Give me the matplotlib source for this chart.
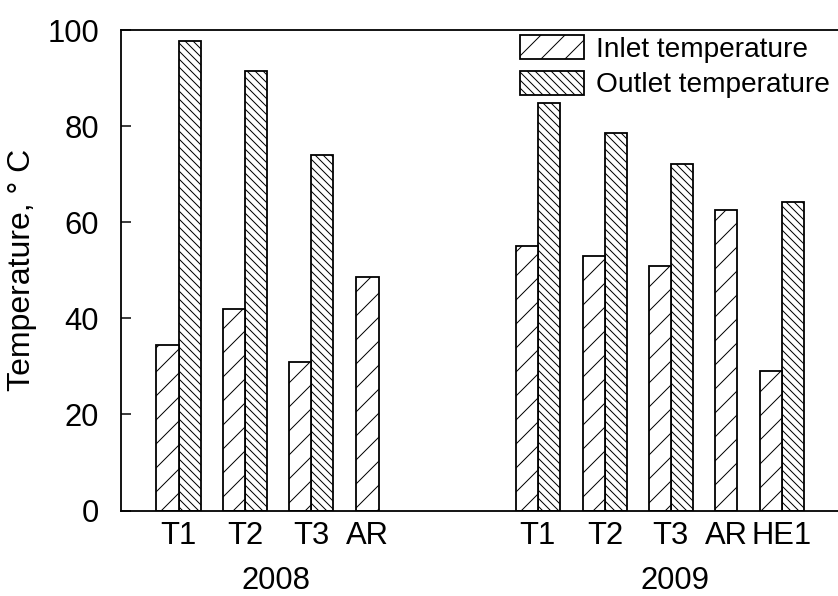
import matplotlib
matplotlib.use('Agg')
import matplotlib.pyplot as plt

# --- data ---
labels_2008 = ['T1', 'T2', 'T3', 'AR']
inlet_2008 = [34.5, 42.0, 31.0, 48.5]
outlet_2008 = [97.8, 91.5, 74.0, None]

labels_2009 = ['T1', 'T2', 'T3', 'AR', 'HE1']
inlet_2009 = [55.0, 53.0, 50.8, 62.6, 29.0]
outlet_2009 = [84.8, 78.5, 72.2, None, 64.3]

years = ['2008', '2009']

# layout (category centres, in units of one pair spacing)
pos_2008 = [0.0, 1.0, 1.99, 2.84]
pos_2009 = [5.40, 6.41, 7.40, 8.23, 9.07]
year_pos = [1.47, 7.46]
w = 0.335

plt.rcParams['font.family'] = ['Liberation Sans', 'DejaVu Sans']
plt.rcParams['hatch.linewidth'] = 1.0

DPI = 72
fig = plt.figure(figsize=(838 / DPI, 596 / DPI), dpi=DPI)
ax = fig.add_axes([121 / 838, 85.5 / 596, (838 - 121) / 838, 480.5 / 596])

positions = pos_2008 + pos_2009
inlets = inlet_2008 + inlet_2009
outlets = outlet_2008 + outlet_2009
bar_kw = dict(width=w, color='white', edgecolor='black', linewidth=1.8)

first_in = first_out = True
for x, vi, vo in zip(positions, inlets, outlets):
    if vo is None:
        xi = x
    else:
        xi = x - w / 2
        ax.bar(x + w / 2, vo, hatch='\\\\\\', label='Outlet temperature' if first_out else None, **bar_kw)
        first_out = False
    ax.bar(xi, vi, hatch='/', label='Inlet temperature' if first_in else None, **bar_kw)
    first_in = False

ax.set_xlim(-0.868, 9.914)
ax.set_ylim(0, 100)
ax.set_yticks([0, 20, 40, 60, 80, 100])
ax.tick_params(axis='y', direction='in', length=10, width=1.5, pad=22, labelsize=31)
ax.set_xticks(positions)
ax.set_xticklabels(labels_2008 + labels_2009)
ax.tick_params(axis='x', length=0, pad=11, labelsize=31)
for s in ['left', 'bottom', 'top']:
    ax.spines[s].set_linewidth(1.8)
ax.spines['right'].set_visible(False)

for xp, yr in zip(year_pos, years):
    ax.text(xp, -0.146, yr, transform=ax.get_xaxis_transform(), ha='center', va='center', fontsize=31)

ax.set_ylabel('Temperature, ° C', fontsize=32, labelpad=10)

handles, labs = ax.get_legend_handles_labels()
order = [labs.index('Inlet temperature'), labs.index('Outlet temperature')]
fig.legend([handles[i] for i in order], [labs[i] for i in order],
           loc='upper left', bbox_to_anchor=(520 / 838, 1 - 35 / 596),
           frameon=False, fontsize=28, handlelength=2.3, handleheight=0.93,
           handletextpad=0.4, labelspacing=0.3, borderpad=0, borderaxespad=0)

fig.savefig('out.png', dpi=DPI)
